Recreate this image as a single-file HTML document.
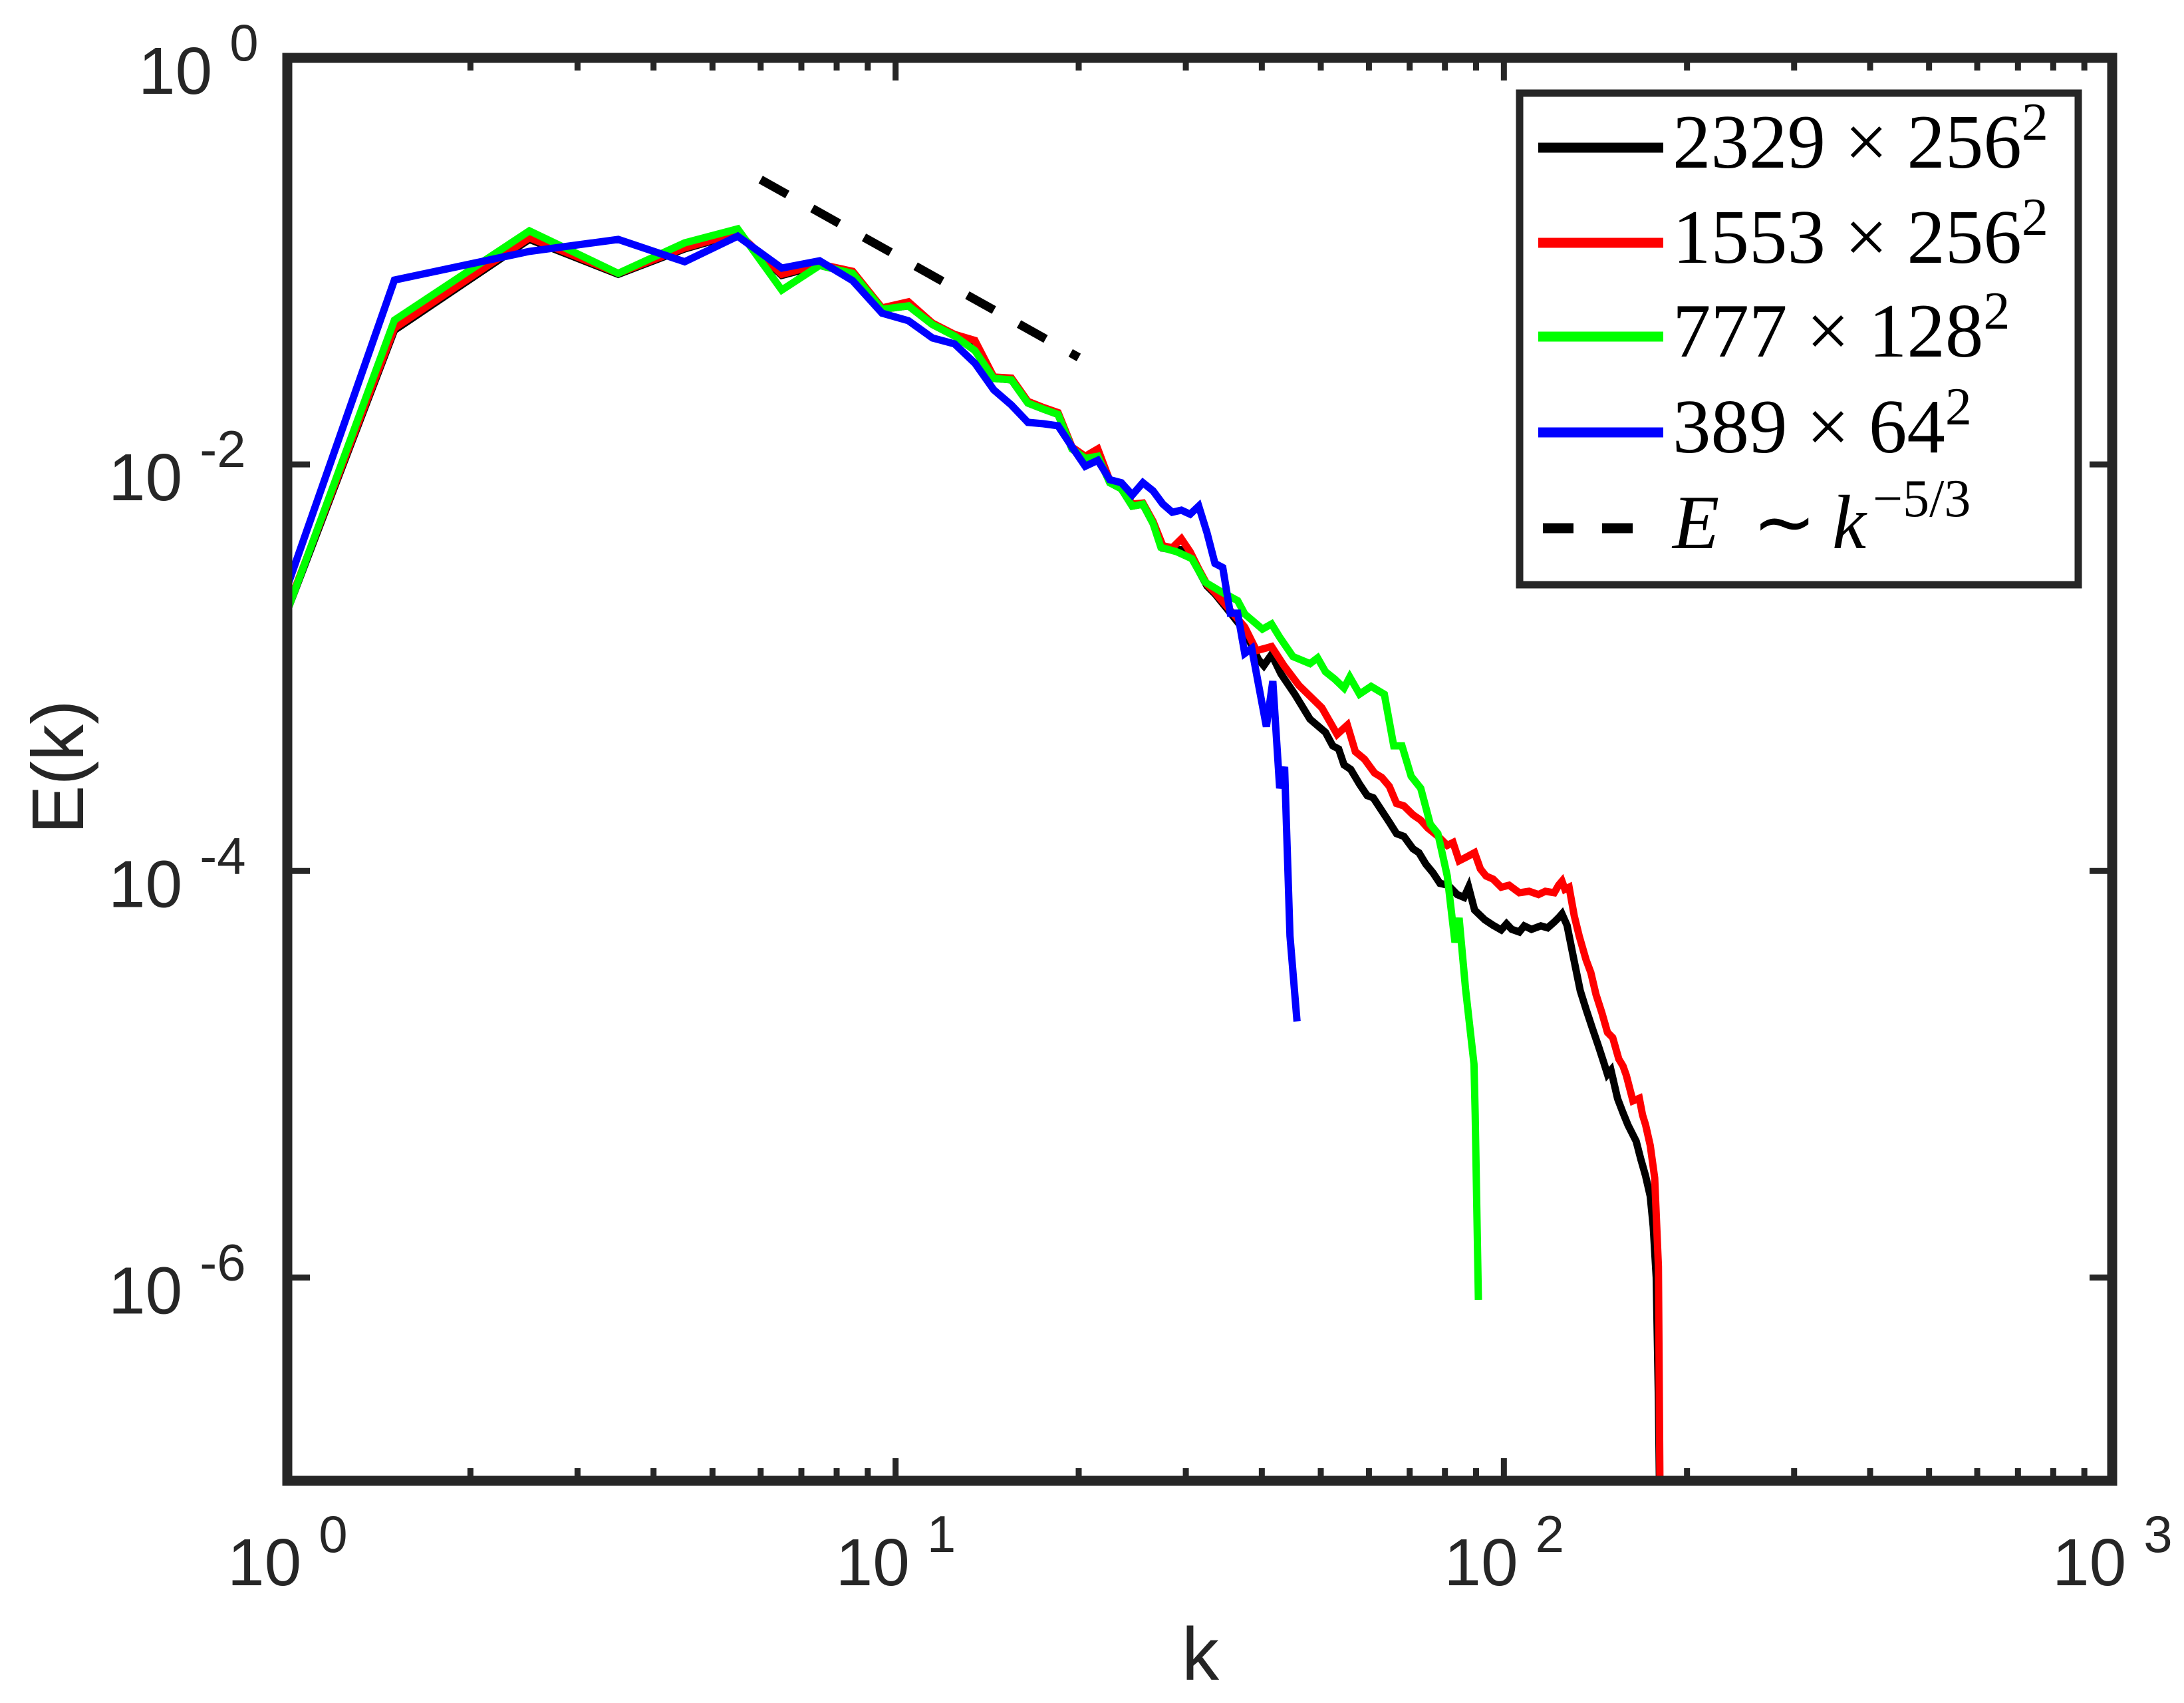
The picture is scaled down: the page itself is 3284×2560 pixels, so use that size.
<!DOCTYPE html>
<html><head><meta charset="utf-8"><style>
html,body{margin:0;padding:0;background:#fff;}
svg{display:block;}
</style></head><body>
<svg id="chart" width="3284" height="2560" viewBox="0 0 3284 2560" xmlns="http://www.w3.org/2000/svg">
<defs><clipPath id="plotclip"><rect x="432" y="87" width="2744" height="2139"/></clipPath></defs>
<rect x="0" y="0" width="3284" height="2560" fill="#fff"/>
<g id="series" clip-path="url(#plotclip)"></g>
<g id="axes"></g>
<g id="legend">
  <rect x="2285" y="140" width="840" height="739" fill="#fff" stroke="#262626" stroke-width="11"/>
  <line x1="2313" y1="222" x2="2501" y2="222" stroke="#000" stroke-width="15"/>
  <text x="2515" y="252" font-family="'Liberation Serif', serif" font-size="115" fill="#000">2329 × 256<tspan font-size="80" dy="-42">2</tspan></text>
  <line x1="2313" y1="365" x2="2501" y2="365" stroke="#ff0000" stroke-width="15"/>
  <text x="2515" y="395" font-family="'Liberation Serif', serif" font-size="115" fill="#000">1553 × 256<tspan font-size="80" dy="-42">2</tspan></text>
  <line x1="2313" y1="506" x2="2501" y2="506" stroke="#00ff00" stroke-width="15"/>
  <text x="2515" y="536" font-family="'Liberation Serif', serif" font-size="115" fill="#000">777 × 128<tspan font-size="80" dy="-42">2</tspan></text>
  <line x1="2313" y1="650" x2="2501" y2="650" stroke="#0000ff" stroke-width="15"/>
  <text x="2515" y="680" font-family="'Liberation Serif', serif" font-size="115" fill="#000">389 × 64<tspan font-size="80" dy="-42">2</tspan></text>
  <line x1="2320" y1="794" x2="2457" y2="794" stroke="#000" stroke-width="15" stroke-dasharray="46 43"/>
  <text x="2515" y="824" font-family="'Liberation Serif', serif" font-size="115" fill="#000"><tspan font-style="italic">E</tspan><tspan x="2635">∼</tspan><tspan x="2755" font-style="italic">k</tspan><tspan font-size="80" dy="-48" dx="10">−5/3</tspan></text>
</g>
<text x="1805" y="2525" text-anchor="middle" font-family="'Liberation Sans', sans-serif" font-size="112" fill="#262626">k</text>
<text x="0" y="0" transform="translate(125,1153) rotate(-90)" text-anchor="middle" font-family="'Liberation Sans', sans-serif" font-size="110" fill="#262626">E(k)</text>
</svg>
<script>
// ---- data ----
const blackK = [1,1.5,2.5,3.5,4.5,5.5,6.5,7.5,8.5,9.5,10.5,11.5,12.5,13.5,14.5,15.5,16.5,17.5,18.5,19.5,20.5,21.5,22.5,23.5,24.5,25.5,26.5,27.5,28.5,29.5,30.5,31.5,32.5,33.5,35.5,37.5,39.5,40.3,41.5,43,45.3,48,50.9,52.3,53.5,54.6,56,57.9,59.6,61,63,64.8,66.6,68.5,70.9,72.5,74.4,76.5,78.5,81,83.8,86,87.5,89.5,93,96,99,101,103,106,108,111,115,118,121,123,124.6,127,130,133.5,136.5,139.8,143,146,148,150,153.8,157,160,165,168,171,174,176,178,179.5,181];
const blackLog10E = [-2.72,-1.34,-0.893,-1.065,-0.94,-0.865,-1.07,-1.021,-1.06,-1.237,-1.22,-1.312,-1.368,-1.40,-1.577,-1.584,-1.698,-1.728,-1.754,-1.924,-1.97,-1.95,-2.09,-2.12,-2.205,-2.196,-2.29,-2.412,-2.42,-2.42,-2.44,-2.523,-2.598,-2.637,-2.73,-2.82,-2.96,-2.99,-2.935,-3.03,-3.13,-3.253,-3.318,-3.384,-3.40,-3.478,-3.50,-3.573,-3.629,-3.64,-3.704,-3.76,-3.816,-3.83,-3.891,-3.91,-3.966,-4.01,-4.061,-4.07,-4.116,-4.13,-4.08,-4.192,-4.24,-4.267,-4.29,-4.26,-4.287,-4.30,-4.27,-4.287,-4.27,-4.28,-4.251,-4.23,-4.211,-4.267,-4.42,-4.588,-4.68,-4.774,-4.86,-4.944,-5.00,-4.98,-5.12,-5.19,-5.25,-5.33,-5.42,-5.5,-5.6,-5.75,-6.0,-6.6,-7.5];

const redK = [1,1.5,2.5,3.5,4.5,5.5,6.5,7.5,8.5,9.5,10.5,11.5,12.5,13.5,14.5,15.5,16.5,17.5,18.5,19.5,20.5,21.5,22.5,23.5,24.5,25.5,26.5,27.5,28.5,29.5,30.5,31.5,32.5,33.5,34.5,36.5,37.5,39.2,41.5,43.5,46,48,50.2,53.2,55.3,57,59,61.3,63,64.8,66.6,68.5,70.9,73,75,78,80.7,82.5,84.4,87,89.5,91.5,93.5,96,99,102,106,110,114,117,121,123,124.6,126,128,130.5,133,136.5,139,141.7,145,148,151,154.5,157,159,163,167,169,171,174,177,179.5,181];
const redLog10E = [-2.71,-1.33,-0.885,-1.06,-0.935,-0.86,-1.065,-1.015,-1.05,-1.23,-1.20,-1.305,-1.36,-1.39,-1.57,-1.575,-1.69,-1.72,-1.745,-1.915,-1.96,-1.924,-2.08,-2.11,-2.195,-2.19,-2.28,-2.40,-2.41,-2.366,-2.43,-2.515,-2.59,-2.63,-2.675,-2.76,-2.80,-2.916,-2.896,-2.99,-3.086,-3.14,-3.197,-3.328,-3.282,-3.413,-3.45,-3.518,-3.54,-3.583,-3.668,-3.68,-3.724,-3.75,-3.789,-3.83,-3.874,-3.86,-3.95,-3.93,-3.91,-3.99,-4.025,-4.04,-4.08,-4.07,-4.107,-4.10,-4.116,-4.10,-4.107,-4.07,-4.05,-4.09,-4.08,-4.22,-4.32,-4.437,-4.50,-4.607,-4.70,-4.794,-4.82,-4.925,-4.96,-5.006,-5.131,-5.118,-5.2,-5.249,-5.35,-5.51,-5.946,-7.5];

const greenK = [1,1.5,2.5,3.5,4.5,5.5,6.5,7.5,8.5,9.5,10.5,11.5,12.5,13.5,14.5,15.5,16.5,17.5,18.5,19.5,20.5,21.5,22.5,23.5,24.5,25.5,26.5,27.3,29,30.7,32.3,34.2,36.5,37.5,40.1,41.5,42.8,45,48,49.4,50.9,52.7,54.6,55.8,57.9,60.5,63.6,65.9,68,70.4,73,75.7,77.9,80.7,83.1,84.4,86.5,89.3,89.7,90.8];
const greenLog10E = [-2.72,-1.29,-0.851,-1.06,-0.91,-0.841,-1.142,-1.021,-1.06,-1.237,-1.22,-1.312,-1.368,-1.44,-1.577,-1.584,-1.698,-1.728,-1.754,-1.924,-1.97,-1.96,-2.09,-2.12,-2.205,-2.196,-2.29,-2.408,-2.43,-2.464,-2.58,-2.624,-2.67,-2.736,-2.81,-2.785,-2.85,-2.945,-2.98,-2.952,-3.02,-3.056,-3.10,-3.046,-3.13,-3.092,-3.131,-3.384,-3.384,-3.534,-3.593,-3.77,-3.816,-4.025,-4.352,-4.231,-4.58,-4.95,-5.2,-6.11];

const blueK = [1,1.5,2.5,3.5,4.5,5.5,6.5,7.5,8.5,9.5,10.5,11.5,12.5,13.5,14.5,15.5,16.5,17.5,18.5,19.5,20.5,21.5,22.5,23.5,24.5,25.5,26.5,27.5,28.5,29.5,30.5,31.5,32.5,33.5,34.5,35.5,36.5,37.5,38.5,40.7,41.7,42.8,43.6,44.5,45.7];
const blueLog10E = [-2.6,-1.093,-0.952,-0.893,-1.003,-0.877,-1.034,-0.998,-1.096,-1.256,-1.293,-1.378,-1.407,-1.502,-1.633,-1.708,-1.793,-1.80,-1.81,-1.914,-2.009,-1.98,-2.075,-2.09,-2.15,-2.09,-2.13,-2.195,-2.235,-2.225,-2.245,-2.205,-2.336,-2.487,-2.507,-2.732,-2.732,-2.93,-2.905,-3.29,-3.066,-3.593,-3.488,-4.32,-4.74];

const refK = [6, 20];
const refE = [0.252, 0.0336];

const xTickExps = [0, 1, 2, 3];
const yTickExps = [0, -2, -4, -6];
const xTickLabels = ["0", "1", "2", "3"];
const yTickLabels = ["0", "-2", "-4", "-6"];

// ---- axes functions ----
const X0 = 432, X1 = 3176, Y0 = 87, Y1 = 2226;
const LX0 = 0, LX1 = 3, LY0 = 0, LY1 = -7;
function xs(k){ return X0 + (Math.log10(k) - LX0) / (LX1 - LX0) * (X1 - X0); }
function ysLog(l){ return Y0 + (l - LY0) / (LY1 - LY0) * (Y1 - Y0); }
function ys(e){ return ysLog(Math.log10(e)); }

const NS = "http://www.w3.org/2000/svg";
const series = document.getElementById('series');
const axes = document.getElementById('axes');

function drawSeries(ks, logs, color, name){
  let d = '';
  for (let i = 0; i < ks.length; i++){
    d += (i ? 'L' : 'M') + xs(ks[i]).toFixed(1) + ' ' + ysLog(logs[i]).toFixed(1);
  }
  const p = document.createElementNS(NS, 'path');
  p.setAttribute('d', d);
  p.setAttribute('fill', 'none');
  p.setAttribute('stroke', color);
  p.setAttribute('stroke-width', '11');
  p.setAttribute('stroke-linejoin', 'miter');
  
  
  series.appendChild(p);
}
drawSeries(blackK, blackLog10E, '#000000', 'series-2329x256');
drawSeries(redK, redLog10E, '#ff0000', 'series-1553x256');
drawSeries(greenK, greenLog10E, '#00ff00', 'series-777x128');
drawSeries(blueK, blueLog10E, '#0000ff', 'series-389x64');

const ref = document.createElementNS(NS, 'line');
ref.setAttribute('x1', xs(refK[0])); ref.setAttribute('y1', ys(refE[0]));
ref.setAttribute('x2', xs(refK[1])); ref.setAttribute('y2', ys(refE[1]));
ref.setAttribute('stroke', '#000'); ref.setAttribute('stroke-width', '13');
ref.setAttribute('stroke-dasharray', '46 43');


series.appendChild(ref);

// ticks
function tick(x1,y1,x2,y2,name){
  const t = document.createElementNS(NS, 'line');
  t.setAttribute('x1', x1); t.setAttribute('y1', y1);
  t.setAttribute('x2', x2); t.setAttribute('y2', y2);
  t.setAttribute('stroke', '#262626'); t.setAttribute('stroke-width', '9');
  
  
  axes.appendChild(t);
}
for (let e = LX0; e < LX1; e++){
  for (let m = 2; m <= 9; m++){
    const x = xs(m * Math.pow(10, e));
    tick(x, Y1, x, Y1 - 19, 'x-minor-tick');
    tick(x, Y0, x, Y0 + 19, 'x-minor-tick-top');
  }
}
xTickExps.forEach(function(e){
  const x = xs(Math.pow(10, e));
  tick(x, Y1, x, Y1 - 34, 'x-major-tick');
  tick(x, Y0, x, Y0 + 34, 'x-major-tick-top');
});
yTickExps.forEach(function(e){
  const y = ysLog(e);
  tick(X0, y, X0 + 34, y, 'y-major-tick');
  tick(X1, y, X1 - 34, y, 'y-major-tick-right');
});

// box
const box = document.createElementNS(NS, 'rect');
box.setAttribute('x', X0); box.setAttribute('y', Y0);
box.setAttribute('width', X1 - X0); box.setAttribute('height', Y1 - Y0);
box.setAttribute('fill', 'none'); box.setAttribute('stroke', '#262626');
box.setAttribute('stroke-width', '15');


axes.appendChild(box);

// tick labels
function label(x, y, base, exp, name){
  const t = document.createElementNS(NS, 'text');
  t.setAttribute('x', x); t.setAttribute('y', y);
  t.setAttribute('font-family', "'Liberation Sans', sans-serif");
  t.setAttribute('font-size', '100');
  t.setAttribute('fill', '#262626');
  
  
  t.textContent = base;
  const s = document.createElementNS(NS, 'tspan');
  s.setAttribute('font-size', '78');
  s.setAttribute('dx', '26');
  s.setAttribute('dy', '-50');
  s.textContent = exp;
  t.appendChild(s);
  axes.appendChild(t);
}
xTickExps.forEach(function(e, i){
  const x = xs(Math.pow(10, e));
  label(x - 90, 2383, '10', xTickLabels[i], 'x-tick-label');
});
yTickExps.forEach(function(e, i){
  const y = ysLog(e);
  const lx = (yTickLabels[i] === '0') ? 208 : 163;
  label(lx, y + 54, '10', yTickLabels[i], 'y-tick-label');
});
</script>
</body></html>
